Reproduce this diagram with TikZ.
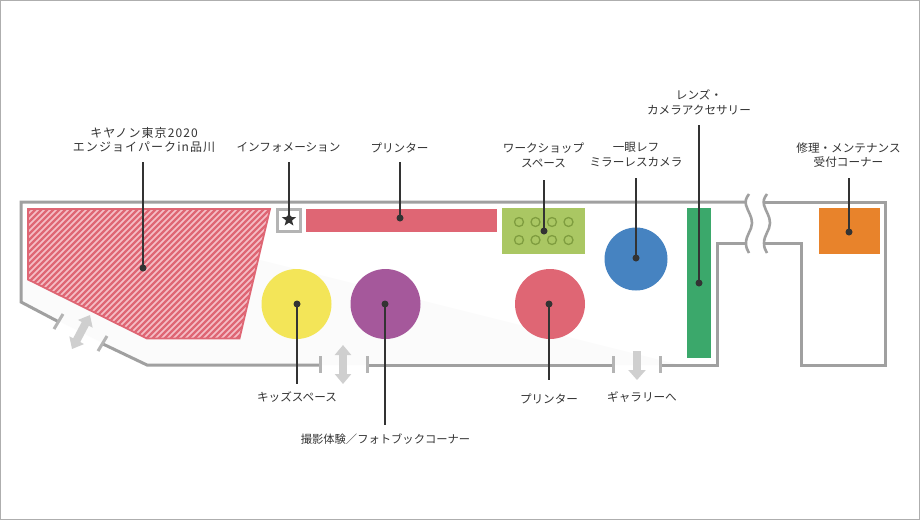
\documentclass[tikz,border=0pt]{standalone}
\usepackage{fontspec}
\newfontfamily\cjk{Noto Sans CJK JP}
\usetikzlibrary{arrows.meta,shapes.geometric}
\definecolor{wallgray}{HTML}{A0A0A0}
\definecolor{tickgray}{HTML}{B4B4B4}
\definecolor{arrowgray}{HTML}{CFCFCF}
\definecolor{inkgray}{HTML}{333333}
\definecolor{boothred}{HTML}{DF6674}
\definecolor{boothpink}{HTML}{F5BEC6}
\definecolor{boothgreen}{HTML}{AAC763}
\definecolor{ringgreen}{HTML}{7F9D3F}
\definecolor{boothblue}{HTML}{4683C1}
\definecolor{boothmint}{HTML}{3BA86B}
\definecolor{boothorange}{HTML}{E8832B}
\definecolor{boothyellow}{HTML}{F3E558}
\definecolor{boothpurple}{HTML}{A5589B}
\begin{document}
\begin{tikzpicture}[x=1pt, y=-1pt,
   wall_style/.style={draw=wallgray, line width=3pt},
   tick_style/.style={draw=tickgray, line width=3pt},
   lead_style/.style={draw=inkgray, line width=1.4pt},
   gate_style/.style={draw=arrowgray, line width=8pt},
   dot_style/.style={circle, fill=inkgray, inner sep=0pt, minimum size=7pt},
   label_style/.style={text=inkgray, align=center, inner sep=0pt, font=\cjk\fontsize{11.6}{14.8}\selectfont},
   booth_style/.style={circle, inner sep=0pt, minimum size=70pt}]
	  \useasboundingbox (0,0) rectangle (920,520);
	  \fill[white] (0,0) rectangle (920,520);
	  \draw[wallgray!85, line width=1pt] (0.5,0.5) rectangle (919.5,519.5);

	  % floor tint
	  \fill[black!1.5] (21,270) -- (21,302) -- (147,365) -- (680,365) -- (260,260) -- cycle;

	  % walls
	  \draw[wall_style] (745,202) -- (21,202) -- (21,302) -- (59,322);
	  \draw[wall_style] (103,344) -- (147,365) -- (320,365);
	  \draw[wall_style] (367,365) -- (613,365);
	  \draw[wall_style] (660,365) -- (717,365) -- (717,243) -- (747,243);
	  \draw[wall_style] (764,243) -- (801,243) -- (801,365) -- (885,365) -- (885,202) -- (764,202);
	  \draw[tick_style] (54,329) -- (63,314);
	  \draw[tick_style] (98,351) -- (107,336);
	  \foreach \gatex in {320,367,613,660}
	    \draw[tick_style] (\gatex,356) -- (\gatex,373);
	  \foreach \breakx in {0,18}
	    \draw[wall_style, line width=2.6pt] (749+\breakx,194) .. controls (746+\breakx,198) and (745+\breakx,201) .. (746+\breakx,205) .. controls (748+\breakx,212) and (752+\breakx,216) .. (752+\breakx,223) .. controls (752+\breakx,230) and (746+\breakx,235) .. (746+\breakx,243) .. controls (746+\breakx,247) and (747+\breakx,250) .. (749+\breakx,253);

	  % gates
	  \coordinate (g1a) at (90,315);
	  \coordinate (g1b) at (72,349);
	  \coordinate (g2a) at (343,345);
	  \coordinate (g2b) at (343,384);
	  \coordinate (g3a) at (637,351);
	  \coordinate (g3b) at (637,380);
	  \draw[gate_style, {Triangle[length=10pt,width=16pt]}-{Triangle[length=10pt,width=16pt]}] (g1a) -- (g1b);
	  \draw[gate_style, {Triangle[length=10pt,width=16pt]}-{Triangle[length=10pt,width=16pt]}] (g2a) -- (g2b);
	  \draw[gate_style, -{Triangle[length=10pt,width=17pt]}] (g3a) -- (g3b);

	  % hatched hall
	  \begin{scope}
	    \clip (28,209) -- (270,209) -- (239.5,338.5) -- (147,338.5) -- (28,279.5) -- cycle;
	    \fill[boothpink] (20,200) rectangle (280,345);
	    \foreach \k in {-130,-124,...,280}
	      \draw[boothred, line width=2.3pt] (\k,345) -- (\k+145,200);
	  \end{scope}
	  \draw[boothred, line width=1.8pt] (28,209) -- (270,209) -- (239.5,338.5) -- (147,338.5) -- (28,279.5) -- cycle;

	  % booths
	  \node [draw=tickgray, fill=white, line width=2.2pt, minimum width=23pt, minimum height=22pt, inner sep=0pt] (infoBox) at (289,220.5) {};
	  \node [star, star points=5, star point ratio=2.4, fill=inkgray, inner sep=0pt, minimum size=15pt] (infoStar) at (289,219.5) {};
	  \fill[boothred] (306,209) rectangle (497,232);
	  \fill[boothgreen] (502,208) rectangle (585,254);
	  \foreach \ringx in {519,535.5,552,568.5}
	    \foreach \ringy in {222,240}
	      \draw[ringgreen, line width=1.3pt] (\ringx,\ringy) circle (4.5);
	  \fill[boothmint] (687,208) rectangle (711,358);
	  \fill[boothorange] (819,208) rectangle (880,254);
	  \node [booth_style, fill=boothblue, minimum size=63pt] (blueBooth) at (636,259) {};
	  \node [booth_style, fill=boothyellow] (kidsBooth) at (296.5,304) {};
	  \node [booth_style, fill=boothpurple] (photoBooth) at (385.5,304) {};
	  \node [booth_style, fill=boothred] (printBooth) at (550,304) {};

	  % labels
	  \node [label_style, font=\cjk\fontsize{12}{14.8}\selectfont\addfontfeatures{LetterSpace=9}] (lHall) at (144,140) {キヤノン東京2020\\エンジョイパークin品川};
	  \node [label_style] (lInfo) at (288.5,147) {インフォメーション};
	  \node [label_style] (lPrintA) at (399.5,148) {プリンター};
	  \node [label_style] (lWork) at (543.5,155) {ワークショップ\\スペース};
	  \node [label_style] (lCam) at (636,155) {一眼レフ\\ミラーレスカメラ};
	  \node [label_style] (lLens) at (699,102.5) {レンズ・\\カメラアクセサリー};
	  \node [label_style] (lRepair) at (848.5,155) {修理・メンテナンス\\受付コーナー};
	  \node [label_style] (lKids) at (297,397) {キッズスペース};
	  \node [label_style, font=\cjk\fontsize{11.3}{14.8}\selectfont] (lPhoto) at (385.5,439) {撮影体験／フォトブックコーナー};
	  \node [label_style] (lPrintB) at (549,399) {プリンター};
	  \node [label_style] (lGal) at (642,397) {ギャラリーへ};

	  % leaders
	  \node [dot_style] (d1) at (143,268) {};
	  \node [dot_style] (d2) at (289,219) {};
	  \node [dot_style] (d3) at (400,218) {};
	  \node [dot_style] (d4) at (544,231) {};
	  \node [dot_style] (d5) at (636,258) {};
	  \node [dot_style] (d6) at (699,283) {};
	  \node [dot_style] (d7) at (849,232) {};
	  \node [dot_style] (d8) at (297,304) {};
	  \node [dot_style] (d9) at (385,304) {};
	  \node [dot_style] (d10) at (549,304) {};
	  \coordinate (e1) at (143,162);
	  \coordinate (e2) at (289,162);
	  \coordinate (e3) at (400,162);
	  \coordinate (e4) at (544,180);
	  \coordinate (e5) at (636,178);
	  \coordinate (e6) at (699,125);
	  \coordinate (e7) at (849,178);
	  \coordinate (e8) at (297,384);
	  \coordinate (e9) at (385,425);
	  \coordinate (e10) at (549,380);

	  \foreach \from/\to in {d1/e1, d2/e2, d3/e3, d4/e4, d5/e5, d6/e6, d7/e7, d8/e8, d9/e9, d10/e10}
	    \draw [lead_style] (\from.center) -- (\to);

	\end{tikzpicture}
\end{document}
